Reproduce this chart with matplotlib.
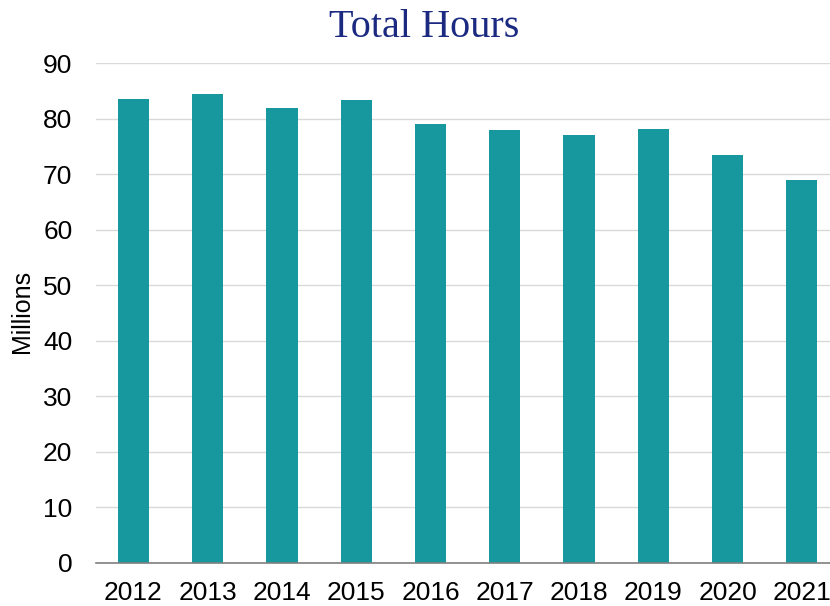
import matplotlib
matplotlib.use('Agg')
from matplotlib import pyplot as plt
import numpy as np

years = ['2012', '2013', '2014', '2015', '2016', '2017', '2018', '2019', '2020', '2021']
hours = [83.5, 84.4, 82.0, 83.3, 79.0, 77.9, 77.1, 78.1, 73.5, 69.0]
yticks = np.arange(0, 91, 10)

fig = plt.figure(figsize=(8.3, 6.06), dpi=100)
ax = fig.add_axes([96/830, 43/606, 1 - 96/830, (563 - 63.3)/606])

x = np.arange(len(years))
ax.bar(x, hours, width=0.42, color='#17989E', zorder=3)

ax.set_xlim(-0.505, 9.38)
ax.set_ylim(0, 90)
ax.set_yticks(yticks)
ax.set_xticks(x)
ax.set_xticklabels(years)
ax.tick_params(axis='both', length=0, labelsize=19)
for lab in ax.get_xticklabels() + ax.get_yticklabels():
    lab.set_fontfamily('Liberation Sans')
ax.tick_params(axis='x', pad=13)
ax.tick_params(axis='y', pad=17)

ax.grid(axis='y', color='#D9D9D9', linewidth=1, zorder=0)
for s in ['top', 'right', 'left']:
    ax.spines[s].set_visible(False)
ax.spines['bottom'].set_color('#7F7F7F')
ax.spines['bottom'].set_linewidth(1.2)
ax.spines['bottom'].set_zorder(4)

fig.text(22/830, 1 - 311.5/606, 'Millions', rotation=90, ha='center', va='center',
         fontsize=18, fontfamily='Liberation Sans')
fig.text(424/830, 1 - 37/606, 'Total Hours', ha='center', va='baseline', fontsize=29,
         fontfamily='Liberation Serif', color='#1B2A80')

fig.savefig('out.png', dpi=100)
